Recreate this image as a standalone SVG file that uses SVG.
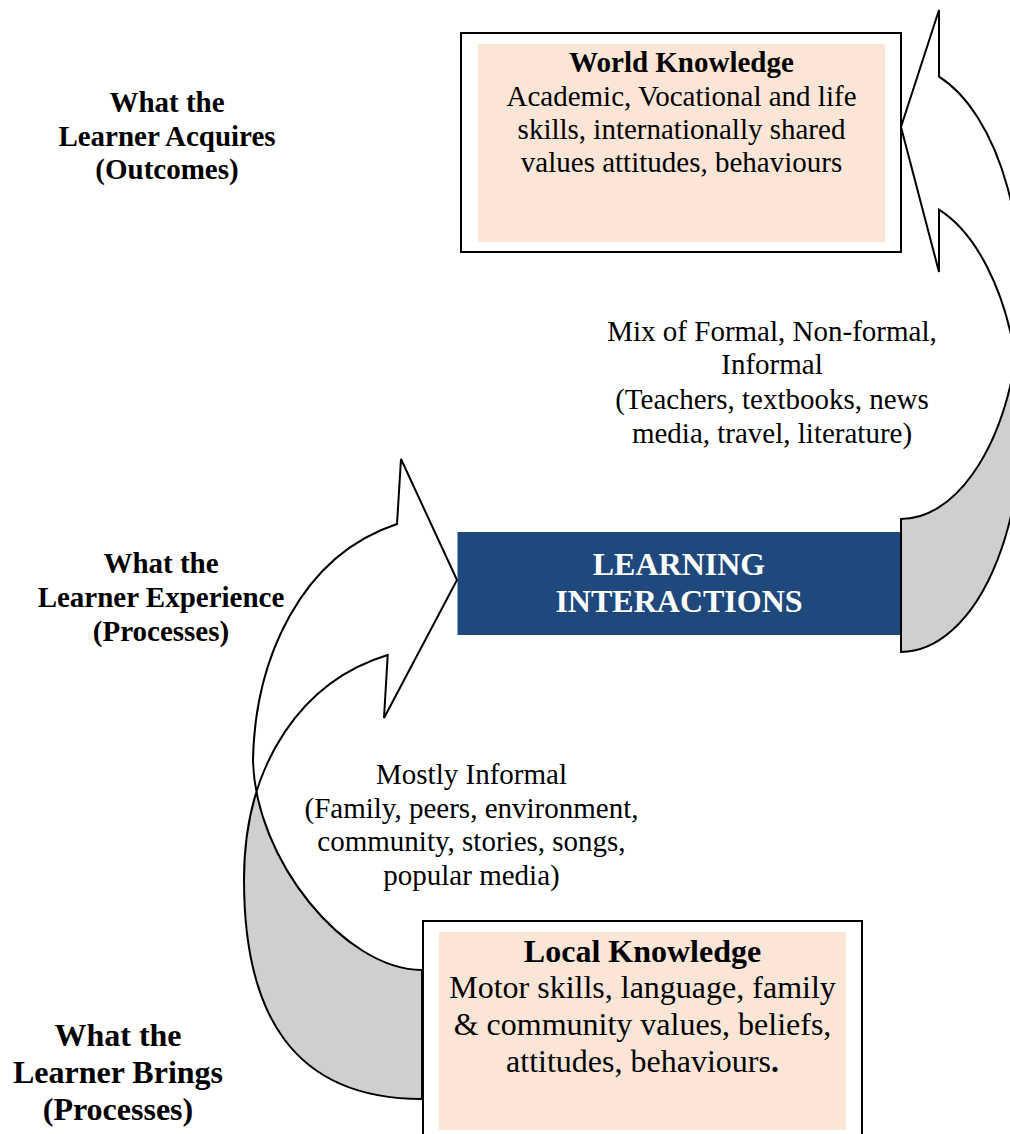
<svg xmlns="http://www.w3.org/2000/svg" xmlns:xlink="http://www.w3.org/1999/xlink" width="1010" height="1134" viewBox="0 0 1010 1134">
<defs>
<style>
.t{font-family:"Liberation Serif","Times New Roman",serif;fill:#000;text-anchor:middle}
.b{font-weight:bold}
.s29{font-size:29px}
.s32{font-size:32px}
.w{fill:#fff}
.arrow{stroke:#000;stroke-width:2;stroke-linejoin:miter}
.front{fill:#fff}
.back{fill:#cfcfcf}
.peach{fill:#fbe5d6}
.frame{fill:#fff;stroke:#000;stroke-width:2}
</style>
<clipPath id="upperL"><rect x="0" y="0" width="1010" height="788"/></clipPath>
<clipPath id="lowerL"><rect x="0" y="788" width="1010" height="400"/></clipPath>
<path id="lpath" d="M397,524 C300,556 255,660 253,760 C255,860 345,970 422,970 L422,1099 C290,1099 244,1010 244,880 C244,760 305,680 387.7,655 L384,718 L457,580 L401,459 Z"/>
</defs>
<rect width="1010" height="1134" fill="#fff"/>

<g id="labels">
  <text class="t b s29" x="167" y="112">What the</text>
  <text class="t b s29" x="167" y="146">Learner Acquires</text>
  <text class="t b s29" x="167" y="179">(Outcomes)</text>
  <text class="t b s29" x="161" y="573">What the</text>
  <text class="t b s29" x="161" y="607">Learner Experience</text>
  <text class="t b s29" x="161" y="641">(Processes)</text>
  <text class="t b s32" x="118" y="1046">What the</text>
  <text class="t b s32" x="118" y="1083">Learner Brings</text>
  <text class="t b s32" x="118" y="1120">(Processes)</text>
</g>

<g id="learning-interactions">
  <rect x="457.5" y="532" width="443" height="103" fill="#1f497d"/>
  <text class="t b s32 w" x="679" y="575">LEARNING</text>
  <text class="t b s32 w" x="679" y="612">INTERACTIONS</text>
</g>

<g id="connectors">
  <g id="arrow-right">
    <path class="front arrow" d="M939,10 L939,76.7 A120,227 0 0 1 1015.7,358.5 A120,227 0 0 0 939,209.7 L939,272 L901,127 Z"/>
    <path class="back arrow" d="M901,519 A120,227 0 0 0 1015.7,358.5 A120,227 0 0 1 901,652 Z"/>
  </g>
  <g id="arrow-left">
    <use xlink:href="#lpath" class="back" clip-path="url(#lowerL)"/>
    <use xlink:href="#lpath" class="front" clip-path="url(#upperL)"/>
    <use xlink:href="#lpath" class="arrow" fill="none"/>
  </g>
  <g id="label-upper">
    <text class="t s29" x="772" y="341">Mix of Formal, Non-formal,</text>
    <text class="t s29" x="772" y="374">Informal</text>
    <text class="t s29" x="772" y="409">(Teachers, textbooks, news</text>
    <text class="t s29" x="772" y="443">media, travel, literature)</text>
  </g>
  <g id="label-lower">
    <text class="t s29" x="471.5" y="784">Mostly Informal</text>
    <text class="t s29" x="471.5" y="817.5">(Family, peers, environment,</text>
    <text class="t s29" x="471.5" y="851">community, stories, songs,</text>
    <text class="t s29" x="471.5" y="884.5">popular media)</text>
  </g>
</g>

<g id="world-knowledge">
  <rect class="frame" x="461" y="33" width="440" height="219"/>
  <rect class="peach" x="478" y="44" width="407" height="198"/>
  <text class="t b s29" x="681.5" y="72">World Knowledge</text>
  <text class="t s29" x="681.5" y="105.5">Academic, Vocational and life</text>
  <text class="t s29" x="681.5" y="139">skills, internationally shared</text>
  <text class="t s29" x="681.5" y="172">values attitudes, behaviours</text>
</g>

<g id="local-knowledge">
  <rect class="frame" x="423" y="921" width="439" height="230"/>
  <rect class="peach" x="439" y="932" width="407" height="198"/>
  <text class="t b s32" x="642.5" y="961.5">Local Knowledge</text>
  <text class="t s32" x="642.5" y="998">Motor skills, language, family</text>
  <text class="t s32" x="642.5" y="1035">&amp; community values, beliefs,</text>
  <text class="t s32" x="642.5" y="1071.5">attitudes, behaviours<tspan class="b">.</tspan></text>
</g>
</svg>
